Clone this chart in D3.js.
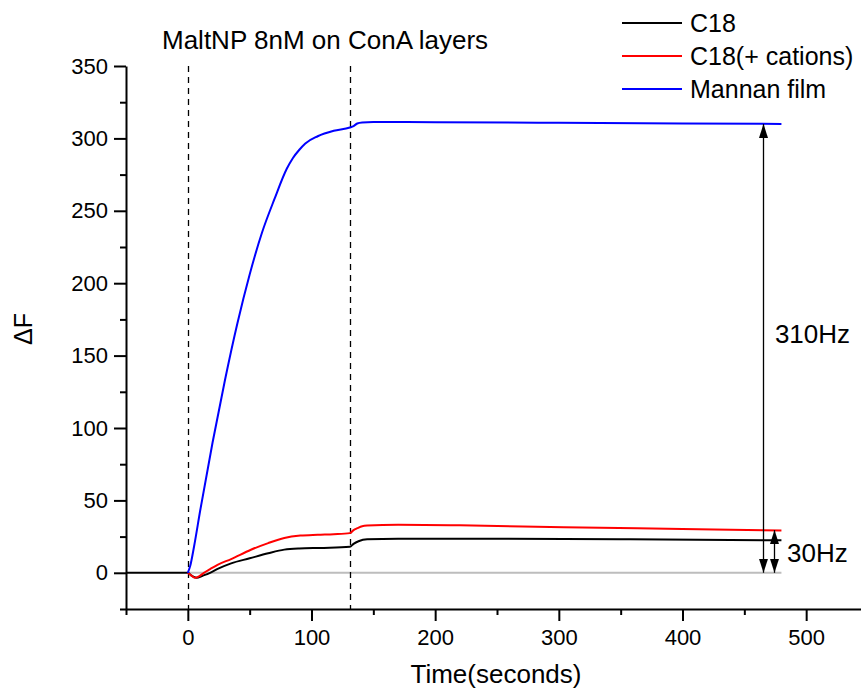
<!DOCTYPE html>
<html>
<head>
<meta charset="utf-8">
<script src="https://cdn.jsdelivr.net/npm/d3@7"></script>
<style>
  body { margin: 0; background: #fff; }
  svg { display: block; font-family: "Liberation Sans", Arial, sans-serif; }
</style>
</head>
<body>
<svg id="chart" width="861" height="690"></svg>
<script>
/*jslint browser:true */

// QCM frequency shift traces (time in seconds, deltaF in Hz)
const seriesNames = ['C18', 'C18(+ cations)', 'Mannan film'];
const seriesColors = ['#000000', '#ff0000', '#0000ff'];

const c18Time = [-50, 0, 3, 7, 12, 18, 25, 35, 50, 65, 78, 90, 110, 131, 134, 138, 145, 170, 250, 350, 480];
const c18Values = [0, 0, -2, -3.5, -2, 0, 3, 6.5, 10, 13.5, 16, 16.8, 17.2, 18, 20, 21.8, 23.2, 23.6, 23.5, 23.2, 22.4];

const cationTime = [0, 3, 6, 9, 13, 18, 24, 35, 51, 65, 78, 91, 105, 118, 131, 134, 137, 141, 145, 170, 220, 304, 400, 480];
const cationValues = [0, -2, -3.5, -2.5, 0, 2.5, 5.5, 9.5, 15.9, 20.5, 24, 25.7, 26.3, 26.7, 27.4, 29.5, 30.8, 32.2, 32.6, 33.2, 32.8, 31.5, 30.3, 29.2];

const mannanTime = [0, 2, 5, 10, 20, 30, 40, 50, 60, 70, 80, 85, 90, 95, 105, 118, 131, 134, 137, 141, 150, 200, 300, 400, 480];
const mannanValues = [0, 5, 18, 43, 90, 133, 172, 206, 235, 258, 279, 286.5, 292, 296.5, 301.5, 305.3, 307.5, 308.5, 310.3, 311, 311.3, 311.2, 310.8, 310.3, 310];

const baselineTime = [0, 480];
const injectionTimes = [0, 131];

const xTicks = [0, 100, 200, 300, 400, 500];
const xMinorTicks = [-50, 50, 150, 250, 350, 450, 550];
const yTicks = [0, 50, 100, 150, 200, 250, 300, 350];
const yMinorTicks = [-25, 25, 75, 125, 175, 225, 275, 325];

// shift annotations: time of arrow, top value, label
const shiftTimes = [465, 474];
const shiftTops = [310, 29.5];
const shiftLabels = ['310Hz', '30Hz'];

(function () {
  'use strict';

  const svg = d3.select('#chart');

  const x = d3.scaleLinear().domain([-50, 550]).range([126, 868]);
  const y = d3.scaleLinear().domain([-25, 350]).range([609, 66]);

  const line = d3.line()
    .x(d => x(d[0]))
    .y(d => y(d[1]))
    .curve(d3.curveMonotoneX);

  // arrow heads
  const defs = svg.append('defs');
  defs.append('marker')
    .attr('id', 'head')
    .attr('viewBox', '0 -5 14 10')
    .attr('refX', 14)
    .attr('refY', 0)
    .attr('markerUnits', 'userSpaceOnUse')
    .attr('markerWidth', 14)
    .attr('markerHeight', 10)
    .attr('orient', 'auto-start-reverse')
    .append('path')
    .attr('d', 'M0,-4.5L14,0L0,4.5Z')
    .attr('fill', '#000');

  // baseline
  svg.append('path')
    .datum(baselineTime.map(t => [t, 0]))
    .attr('d', d3.line().x(d => x(d[0])).y(d => y(d[1])))
    .attr('stroke', '#bdbdbd')
    .attr('stroke-width', 2)
    .attr('fill', 'none');

  // injection markers
  svg.selectAll('.inject')
    .data(injectionTimes)
    .enter().append('line')
    .attr('class', 'inject')
    .attr('x1', d => Math.round(x(d)) + 0.5)
    .attr('x2', d => Math.round(x(d)) + 0.5)
    .attr('y1', y(350))
    .attr('y2', y(-25))
    .attr('stroke', '#000')
    .attr('stroke-width', 1.3)
    .attr('stroke-dasharray', '6,5');

  // traces
  const traces = [
    d3.zip(c18Time, c18Values),
    d3.zip(cationTime, cationValues),
    d3.zip(mannanTime, mannanValues)
  ];

  svg.selectAll('.trace')
    .data(traces)
    .enter().append('path')
    .attr('class', 'trace')
    .attr('d', line)
    .attr('fill', 'none')
    .attr('stroke', (d, i) => seriesColors[i])
    .attr('stroke-width', 2);

  // shift arrows
  shiftTimes.forEach(function (t, i) {
    svg.append('line')
      .attr('x1', Math.round(x(t)) + 0.5)
      .attr('x2', Math.round(x(t)) + 0.5)
      .attr('y1', y(0))
      .attr('y2', y(shiftTops[i]))
      .attr('stroke', '#000')
      .attr('stroke-width', 1.3)
      .attr('marker-start', 'url(#head)')
      .attr('marker-end', 'url(#head)');
  });

  svg.append('text')
    .attr('x', x(shiftTimes[0]) + 12)
    .attr('y', 343)
    .attr('font-size', 26)
    .text(shiftLabels[0]);

  svg.append('text')
    .attr('x', x(shiftTimes[1]) + 13)
    .attr('y', 562)
    .attr('font-size', 26)
    .text(shiftLabels[1]);

  // axes
  const xAxis = svg.append('g')
    .attr('transform', 'translate(0,' + y(-25) + ')')
    .call(d3.axisBottom(x).tickValues(xTicks).tickSize(12).tickSizeOuter(0).tickPadding(8).tickFormat(d3.format('d')));
  svg.append('g')
    .attr('transform', 'translate(0,' + y(-25) + ')')
    .call(d3.axisBottom(x).tickValues(xMinorTicks).tickSize(6).tickSizeOuter(0).tickFormat(''))
    .select('.domain').remove();

  const yAxis = svg.append('g')
    .attr('transform', 'translate(' + x(-50) + ',0)')
    .call(d3.axisLeft(y).tickValues(yTicks).tickSize(12).tickSizeOuter(0).tickPadding(6));
  svg.append('g')
    .attr('transform', 'translate(' + x(-50) + ',0)')
    .call(d3.axisLeft(y).tickValues(yMinorTicks).tickSize(6).tickSizeOuter(0).tickFormat(''))
    .select('.domain').remove();

  svg.selectAll('.tick line, .domain')
    .attr('stroke', '#000')
    .attr('stroke-width', 2);
  [xAxis, yAxis].forEach(function (g) {
    g.selectAll('text')
      .attr('font-size', 22)
      .attr('font-family', '"Liberation Sans", Arial, sans-serif')
      .attr('fill', '#000');
  });

  // titles
  svg.append('text')
    .attr('x', 162)
    .attr('y', 49)
    .attr('font-size', 26)
    .text('MaltNP 8nM on ConA layers');

  svg.append('text')
    .attr('x', 496)
    .attr('y', 683)
    .attr('text-anchor', 'middle')
    .attr('font-size', 26)
    .text('Time(seconds)');

  svg.append('text')
    .attr('transform', 'translate(32,329) rotate(-90)')
    .attr('text-anchor', 'middle')
    .attr('font-size', 25)
    .text('\u0394F');

  // legend
  const legend = svg.selectAll('.legend')
    .data(seriesNames)
    .enter().append('g')
    .attr('class', 'legend')
    .attr('transform', (d, i) => 'translate(622,' + (23 + i * 33) + ')');

  legend.append('line')
    .attr('x1', 0)
    .attr('x2', 60)
    .attr('stroke', (d, i) => seriesColors[i])
    .attr('stroke-width', 2);

  legend.append('text')
    .attr('x', 68)
    .attr('y', 9)
    .attr('font-size', 25)
    .text(d => d);
}());
</script>
</body>
</html>
